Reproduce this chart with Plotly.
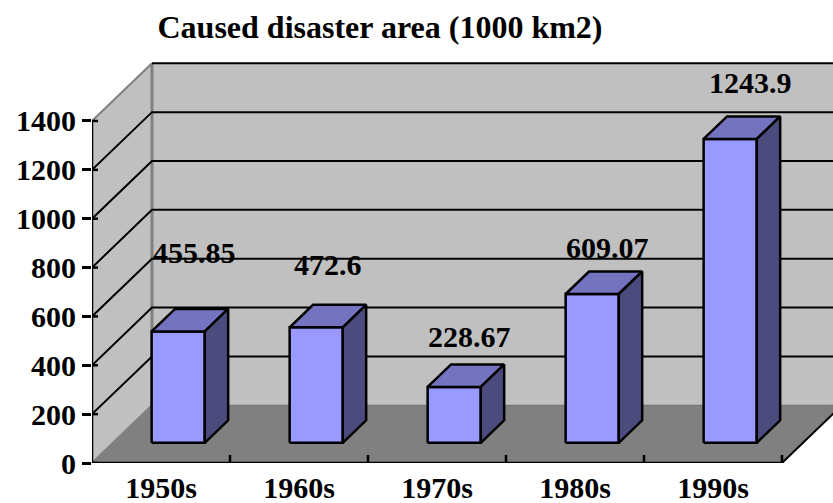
import plotly.graph_objects as go

# ---- data -------------------------------------------------------------
decades = ["1950s", "1960s", "1970s", "1980s", "1990s"]
area = [455.85, 472.6, 228.67, 609.07, 1243.9]
y_ticks = [0, 200, 400, 600, 800, 1000, 1200, 1400]

# value-label placement: lift above the bar top (px) and x offset within the category
label_lift_px = [99, 83, 71, 67, 77]
label_x_off = [0.746, 0.71, 0.739, 0.739, 0.775]

# ---- geometry of the pseudo-3D frame -----------------------------------
W, H = 833, 503
PX_LEFT, PX_BOTTOM, PX_TOP = 92, 463, 55
CAT_PX = 138.0          # pixels per category
VAL_PX = 0.2443         # pixels per value unit
DEPTH_DX_PX, DEPTH_DY_PX = 60.0, 57.7

DX = DEPTH_DX_PX / CAT_PX
DY = DEPTH_DY_PX / VAL_PX
n = len(decades)
ymax = y_ticks[-1]

BAR_START, BAR_W = 0.28, 0.385
Z_FRONT, Z_BACK = 0.35, 0.74

FRONT = "#9999FF"
TOP = "#7373BF"
SIDE = "#4B4B7E"
WALL = "#C0C0C0"
FLOOR = "#808080"
EDGE = "#808080"

FONT = "Liberation Serif, Times New Roman, serif"


def P(c, v, z):
    """Project (category position, value, depth 0..1) onto the axes."""
    return (c + z * DX, v + z * DY)


def poly(pts, fill, line_color="black", line_width=0):
    xs = [p[0] for p in pts] + [pts[0][0]]
    ys = [p[1] for p in pts] + [pts[0][1]]
    return go.Scatter(x=xs, y=ys, mode="lines", fill="toself", fillcolor=fill,
                      line=dict(color=line_color, width=line_width),
                      hoverinfo="skip", showlegend=False)


def path(pts, color, width):
    xs = [p[0] if p is not None else None for p in pts]
    ys = [p[1] if p is not None else None for p in pts]
    return go.Scatter(x=xs, y=ys, mode="lines", line=dict(color=color, width=width),
                      hoverinfo="skip", showlegend=False, connectgaps=False)


fig = go.Figure()

# walls and floor
fig.add_trace(poly([P(0, 0, 1), P(n, 0, 1), P(n, ymax, 1), P(0, ymax, 1)], WALL))
fig.add_trace(poly([P(0, 0, 0), P(0, ymax, 0), P(0, ymax, 1), P(0, 0, 1)], WALL))
fig.add_trace(poly([P(0, 0, 0), P(n, 0, 0), P(n, 0, 1), P(0, 0, 1)], FLOOR))

# wall edges
fig.add_trace(path([P(0, 0, 1), P(0, ymax, 1)], EDGE, 3))
fig.add_trace(path([P(0, ymax, 0), P(0, ymax, 1)], EDGE, 2))
fig.add_trace(path([P(0, 0, 0), P(0, 0, 1)], EDGE, 2))
fig.add_trace(path([P(0, 0, 1), P(n, 0, 1)], "#6E6E6E", 1))

# gridlines on the side wall and back wall
grid_pts = []
for v in y_ticks[1:]:
    if v < ymax:
        grid_pts += [P(0, v, 0), P(0, v, 1), P(n, v, 1), None]
    else:
        grid_pts += [P(0, v, 1), P(n, v, 1), None]
fig.add_trace(path(grid_pts, "black", 2))

# axis lines, floor right edge and inner tick marks
fig.add_trace(path([P(0, 0, 0), P(0, ymax, 0)], "black", 2.5))
fig.add_trace(path([P(0, 0, 0), P(n, 0, 0)], "black", 2.5))
fig.add_trace(path([P(n, 0, 0), P(n, 0, 1)], "black", 2))
tick_pts = []
for v in y_ticks:
    tick_pts += [(0, v), (6 / CAT_PX, v), None]
for k in range(1, n + 1):
    tick_pts += [(k, 0), (k, 8 / VAL_PX), None]
fig.add_trace(path(tick_pts, "black", 2.5))

# bars
for i, v in enumerate(area):
    c0, c1 = i + BAR_START, i + BAR_START + BAR_W
    fig.add_trace(poly([P(c0, 0, Z_FRONT), P(c1, 0, Z_FRONT), P(c1, v, Z_FRONT), P(c0, v, Z_FRONT)],
                       FRONT, "black", 2.5))
    fig.add_trace(poly([P(c0, v, Z_FRONT), P(c1, v, Z_FRONT), P(c1, v, Z_BACK), P(c0, v, Z_BACK)],
                       TOP, "black", 2.5))
    fig.add_trace(poly([P(c1, 0, Z_FRONT), P(c1, v, Z_FRONT), P(c1, v, Z_BACK), P(c1, 0, Z_BACK)],
                       SIDE, "black", 2.5))

# value labels
for i, v in enumerate(area):
    fig.add_annotation(x=i + label_x_off[i], y=v, yshift=label_lift_px[i],
                       text=f"{v:g}", showarrow=False, xanchor="center", yanchor="middle",
                       font=dict(family=FONT, size=30, color="black", weight="bold"))

fig.update_layout(
    width=W, height=H,
    margin=dict(l=PX_LEFT, r=0, t=PX_TOP, b=H - PX_BOTTOM, autoexpand=False),
    paper_bgcolor="white", plot_bgcolor="white",
    title=dict(text="Caused disaster area (1000 km2)", x=380 / W, xanchor="center",
               y=1 - 27 / H, yanchor="middle", xref="container", yref="container",
               font=dict(family=FONT, size=32, color="black", weight="bold")),
    xaxis=dict(range=[0, (W - PX_LEFT) / CAT_PX], showgrid=False, zeroline=False, showline=False,
               tickmode="array", tickvals=[i + 0.5 for i in range(n)], ticktext=decades,
               ticks="", ticklabelstandoff=4,
               tickfont=dict(family=FONT, size=30, color="black", weight="bold"),
               fixedrange=True),
    yaxis=dict(range=[0, (PX_BOTTOM - PX_TOP) / VAL_PX], showgrid=False, zeroline=False, showline=False,
               tickmode="array", tickvals=y_ticks, ticks="outside", ticklen=9, tickwidth=2.5,
               tickcolor="black", tickfont=dict(family=FONT, size=30, color="black", weight="bold"),
               fixedrange=True),
)

fig.write_html("out.html")
